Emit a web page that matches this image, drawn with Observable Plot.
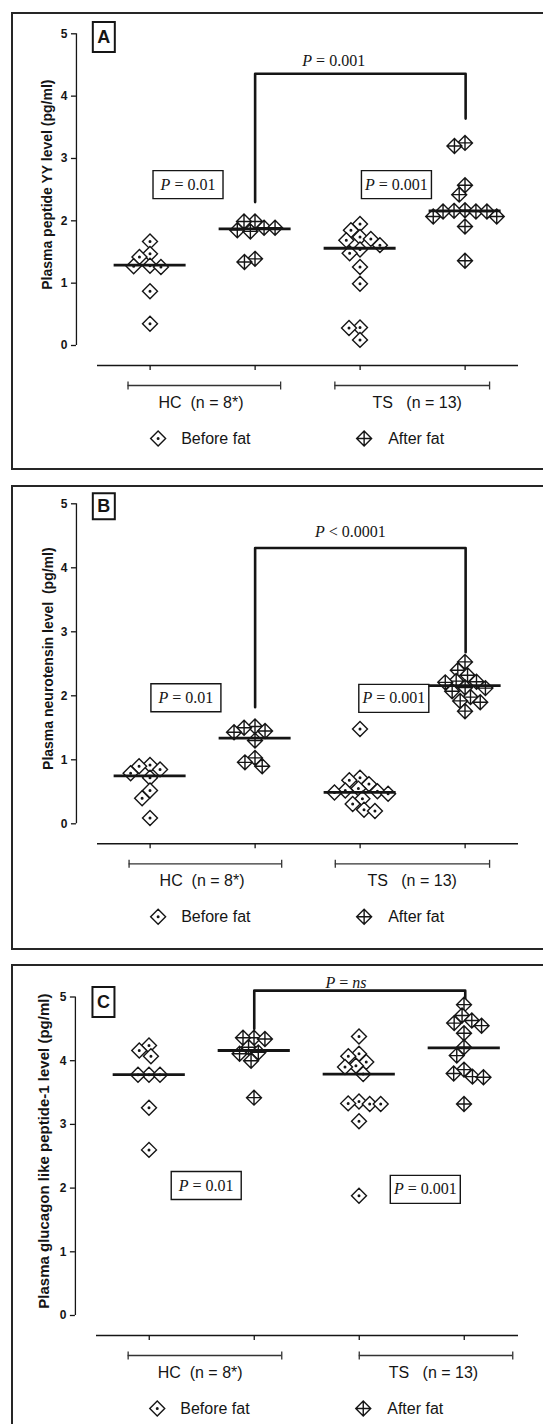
<!DOCTYPE html>
<html>
<head>
<meta charset="utf-8">
<script src="https://cdn.jsdelivr.net/npm/d3@7"></script>
<script src="https://cdn.jsdelivr.net/npm/@observablehq/plot@0.6"></script>
<style>
html, body { margin: 0; padding: 0; background: #fff; }
#root { position: relative; width: 543px; height: 1424px; overflow: hidden; background: #fff; }
.frame { position: absolute; left: 11px; width: 600px; border: 2px solid #262626; box-sizing: border-box; }
.panel { position: absolute; left: 0; }
.panel svg { overflow: visible; }
</style>
</head>
<body>
<div id="root"></div>
<script>
// ---------- shared categories / labels ----------
const categories = ["HC before fat", "HC after fat", "TS before fat", "TS after fat"];
const yTicks = [0, 1, 2, 3, 4, 5];
const legendLabels = ["Before fat", "After fat"];
const groupLabels = ["HC\u00a0\u00a0(n = 8*)", "TS\u00a0\u00a0\u00a0(n = 13)"];

// ---------- Panel A: plasma peptide YY (pg/ml) ----------
const pyyHCBefore = [1.67, 1.47, 1.42, 1.28, 1.26, 1.27, 0.87, 0.35];
const pyyHCAfter  = [1.99, 1.99, 1.89, 1.89, 1.85, 1.83, 1.39, 1.34];
const pyyTSBefore = [1.95, 1.85, 1.74, 1.71, 1.69, 1.61, 1.54, 1.48, 1.26, 0.99, 0.29, 0.28, 0.09];
const pyyTSAfter  = [3.25, 3.20, 2.57, 2.42, 2.17, 2.16, 2.15, 2.15, 2.15, 2.07, 2.07, 1.91, 1.36];
const pyyMedians  = [1.29, 1.87, 1.56, 2.16];
const pyyBracket  = [2.30, 4.36, 3.64];            // left leg end, top, right leg end
const pyyPLabels  = ["P = 0.01", "P = 0.001", "P = 0.001"]; // HC, TS, after vs after

// ---------- Panel B: plasma neurotensin (pg/ml) ----------
const ntHCBefore = [0.92, 0.90, 0.85, 0.79, 0.72, 0.52, 0.40, 0.09];
const ntHCAfter  = [1.52, 1.50, 1.45, 1.43, 1.30, 1.03, 0.96, 0.90];
const ntTSBefore = [1.48, 0.72, 0.68, 0.62, 0.55, 0.52, 0.51, 0.49, 0.47, 0.39, 0.31, 0.22, 0.20];
const ntTSAfter  = [2.53, 2.40, 2.32, 2.23, 2.22, 2.21, 2.13, 2.12, 2.07, 1.98, 1.92, 1.90, 1.76];
const ntMedians  = [0.75, 1.34, 0.49, 2.16];
const ntBracket  = [1.82, 4.31, 2.68];
const ntPLabels  = ["P = 0.01", "P = 0.001", "P < 0.0001"];

// ---------- Panel C: plasma glucagon like peptide-1 (pg/ml) ----------
const glpHCBefore = [4.24, 4.16, 4.07, 3.78, 3.78, 3.78, 3.26, 2.60];
const glpHCAfter  = [4.36, 4.36, 4.34, 4.21, 4.13, 4.11, 4.00, 3.42];
const glpTSBefore = [4.38, 4.11, 4.07, 3.98, 3.92, 3.90, 3.79, 3.36, 3.33, 3.32, 3.32, 3.05, 1.88];
const glpTSAfter  = [4.88, 4.71, 4.63, 4.59, 4.55, 4.43, 4.21, 4.08, 3.86, 3.80, 3.75, 3.74, 3.32];
const glpMedians  = [3.78, 4.16, 3.79, 4.20];
const glpBracket  = [4.50, 5.10, 4.97];
const glpPLabels  = ["P = 0.01", "P = 0.001", "P = ns"];

// ---------- layout (positions / styles) ----------
const ink = "#151515";
const sans = "'Liberation Sans', Arial, sans-serif";
const serif = "'Liberation Serif', 'Times New Roman', serif";

const panels = [
  { letter: "A", title: "Plasma peptide YY level (pg/ml)", titleSize: 14, titleDx: -29,
    top: 13, height: 457, frameTop: 12, frameH: 458, yRange: [332, 20.3], fxRange: [96.5, 517.5],
    series: [pyyHCBefore, pyyHCAfter, pyyTSBefore, pyyTSAfter], medians: pyyMedians,
    bracket: pyyBracket, pLabels: pyyPLabels,
    letterPos: [-0.44, 4.95], letterBox: [22, 30],
    boxPos: [[0.36, 2.58], [0.345, 2.58]], topLabelPos: [0.747, 4.57],
    groupBr: [[-0.21, 1.24], [-0.24, 1.23]], groupLabelX: [0.08, 0.118] },
  { letter: "B", title: "Plasma neurotensin level\u00a0 (pg/ml)", titleSize: 14, titleDx: -28,
    top: 486, height: 464, frameTop: 485, frameH: 465, yRange: [337.3, 17.3], fxRange: [96.5, 517.5],
    series: [ntHCBefore, ntHCAfter, ntTSBefore, ntTSAfter], medians: ntMedians,
    bracket: ntBracket, pLabels: ntPLabels,
    letterPos: [-0.44, 4.96], letterBox: [22, 26],
    boxPos: [[0.34, 1.97], [0.32, 1.96]], topLabelPos: [0.905, 4.56],
    groupBr: [[-0.2, 1.25], [-0.236, 1.23]], groupLabelX: [0.09, 0.07] },
  { letter: "C", title: "Plasma glucagon like peptide-1 level (pg/ml)", titleSize: 15, titleDx: -31,
    top: 965, height: 459, frameTop: 964, frameH: 520, yRange: [350, 31.5], fxRange: [94.5, 516.5],
    series: [glpHCBefore, glpHCAfter, glpTSBefore, glpTSAfter], medians: glpMedians,
    bracket: glpBracket, pLabels: glpPLabels,
    letterPos: [-0.434, 4.92], letterBox: [22, 30],
    boxPos: [[0.54, 2.04], [0.626, 1.98]], topLabelPos: [0.87, 5.22],
    groupBr: [[-0.2, 1.256], [0, 1.455]], groupLabelX: [0.08, 0.28] }
];

// ---------- custom symbols ----------
function diamondPath(ctx, size) {
  const h = Math.sqrt(size / Math.PI) * 1.1;
  ctx.moveTo(0, -h); ctx.lineTo(h, 0); ctx.lineTo(0, h); ctx.lineTo(-h, 0); ctx.closePath();
  return h;
}
const diamondDot = { draw(ctx, size) { diamondPath(ctx, size); ctx.moveTo(0.8, 0); ctx.arc(0, 0, 0.8, 0, 2 * Math.PI); } };
const diamondPlus = { draw(ctx, size) { const h = diamondPath(ctx, size); ctx.moveTo(-h, 0); ctx.lineTo(h, 0); ctx.moveTo(0, -h); ctx.lineTo(0, h); } };
const rectSym = (w, h) => ({ draw(ctx) { ctx.rect(-w / 2, -h / 2, w, h); } });
const tickDown = { draw(ctx) { ctx.moveTo(0, 0); ctx.lineTo(0, 4.5); } };
const capSym = { draw(ctx) { ctx.moveTo(0, -4); ctx.lineTo(0, 4); } };

const mctx = document.createElement("canvas").getContext("2d");
function measure(t, italic, size) {
  mctx.font = `${italic ? "italic " : ""}${size}px ${serif}`;
  return mctx.measureText(t).width;
}
function richText(label, fxCat, x, y, size) {
  const segs = label.split(/(P|ns)/).filter(s => s.length)
    .map(s => ({ t: s.replace(/ /g, "\u00a0"), italic: s === "P" || s === "ns" }));
  const widths = segs.map(s => measure(s.t, s.italic, size));
  let off = -d3.sum(widths) / 2;
  return segs.map((s, i) => {
    const m = Plot.text([s.t], {
      fx: () => fxCat, x: () => x, y: () => y, text: d => d, dx: off,
      textAnchor: "start", fontStyle: s.italic ? "italic" : "normal",
      fontFamily: serif, fontSize: size, fill: ink
    });
    off += widths[i];
    return m;
  });
}

function makePanel(cfg) {
  const [c1, c2, c3, c4] = categories;
  const at = c => () => c;
  const bw = (cfg.fxRange[1] - cfg.fxRange[0]) / 4;
  const axisX = -0.7;
  const before = [], after = [];
  cfg.series.forEach((vals, i) => vals.forEach(v => (i % 2 === 0 ? before : after).push({ cat: categories[i], value: v })));
  const medians = categories.map((c, i) => ({ cat: c, value: cfg.medians[i] }));
  const [legL, legTop, legR] = cfg.bracket;
  const span = categories.indexOf(c4) - categories.indexOf(c2);
  const bracketPts = [{ x: 0, y: legL }, { x: 0, y: legTop }, { x: span, y: legTop }, { x: span, y: legR }];
  const groupBr = [
    { cat: c1, x1: cfg.groupBr[0][0], x2: cfg.groupBr[0][1] },
    { cat: c3, x1: cfg.groupBr[1][0], x2: cfg.groupBr[1][1] }
  ];
  const groupCaps = groupBr.flatMap(d => [{ cat: d.cat, x: d.x1 }, { cat: d.cat, x: d.x2 }]);
  const groupText = [
    { cat: c1, x: cfg.groupLabelX[0], text: groupLabels[0] },
    { cat: c3, x: cfg.groupLabelX[1], text: groupLabels[1] }
  ];
  const legend = [
    { cat: c1, label: legendLabels[0], sdx: 8, tdx: 31 },
    { cat: c3, label: legendLabels[1], sdx: 4, tdx: 28 }
  ];
  const dotStyle = { r: 6.8, fill: "white", stroke: ink, strokeWidth: 1.4 };
  const dodge = { anchor: "middle", padding: -2.6 };
  const textStyle = { fontSize: 16, fontFamily: sans, fill: ink };

  const marks = [
    // y axis
    Plot.ruleX([0], { fx: at(c1), x: axisX, y1: 0, y2: 5, stroke: ink, strokeWidth: 1.3 }),
    Plot.ruleY(yTicks, { fx: at(c1), y: d => d, x1: axisX - 5 / bw, x2: axisX, stroke: ink, strokeWidth: 1.3 }),
    Plot.text(yTicks, { fx: at(c1), y: d => d, x: axisX, dx: -9, text: d => String(d), textAnchor: "end",
      fontWeight: "bold", fontSize: 12, fontFamily: sans, fill: ink }),
    Plot.text([cfg.title], { fx: at(c1), x: axisX, y: 2.58, dx: cfg.titleDx, rotate: -90, text: d => d,
      fontWeight: "bold", fontSize: cfg.titleSize, fontFamily: sans, fill: ink }),
    // x axis line + category ticks
    Plot.ruleY([0], { fx: at(c1), y: d => d, x1: -0.5, x2: 3.5, dy: 20, stroke: ink, strokeWidth: 1.6 }),
    Plot.dot(categories, { fx: d => d, x: 0, y: 0, dy: 20, symbol: tickDown, stroke: ink, strokeWidth: 1.3, fill: "none" }),
    // group brackets and labels
    Plot.ruleY(groupBr, { fx: "cat", y: 0, x1: "x1", x2: "x2", dy: 40, stroke: "#333", strokeWidth: 1.3 }),
    Plot.dot(groupCaps, { fx: "cat", x: "x", y: 0, dy: 40, symbol: capSym, stroke: "#333", strokeWidth: 1.3, fill: "none" }),
    Plot.text(groupText, { fx: "cat", x: "x", y: 0, dy: 57, text: "text", textAnchor: "start", ...textStyle }),
    // legend
    Plot.dot(legend.slice(0, 1), { fx: "cat", x: 0, y: 0, dy: 93, dx: legend[0].sdx, symbol: diamondDot, ...dotStyle }),
    Plot.dot(legend.slice(1), { fx: "cat", x: 0, y: 0, dy: 93, dx: legend[1].sdx, symbol: diamondPlus, ...dotStyle }),
    Plot.text(legend.slice(0, 1), { fx: "cat", x: 0, y: 0, dy: 93, dx: legend[0].tdx, text: "label", textAnchor: "start", ...textStyle }),
    Plot.text(legend.slice(1), { fx: "cat", x: 0, y: 0, dy: 93, dx: legend[1].tdx, text: "label", textAnchor: "start", ...textStyle }),
    // panel letter
    Plot.dot([cfg.letter], { fx: at(c1), x: cfg.letterPos[0], y: cfg.letterPos[1], symbol: rectSym(...cfg.letterBox),
      fill: "white", stroke: ink, strokeWidth: 2, r: 5 }),
    Plot.text([cfg.letter], { fx: at(c1), x: cfg.letterPos[0], y: cfg.letterPos[1], text: d => d,
      fontWeight: "bold", fontSize: 18, fontFamily: sans, fill: ink }),
    // comparison bracket
    Plot.line(bracketPts, { fx: at(c2), x: "x", y: "y", stroke: ink, strokeWidth: 2.6 }),
    ...richText(cfg.pLabels[2], c2, cfg.topLabelPos[0], cfg.topLabelPos[1], 16),
    // boxed P labels
    Plot.dot([0], { fx: at(c1), x: cfg.boxPos[0][0], y: cfg.boxPos[0][1], symbol: rectSym(70, 28), fill: "white", stroke: ink, strokeWidth: 1.4, r: 5 }),
    Plot.dot([0], { fx: at(c3), x: cfg.boxPos[1][0], y: cfg.boxPos[1][1], symbol: rectSym(70, 28), fill: "white", stroke: ink, strokeWidth: 1.4, r: 5 }),
    ...richText(cfg.pLabels[0], c1, cfg.boxPos[0][0], cfg.boxPos[0][1], 16),
    ...richText(cfg.pLabels[1], c3, cfg.boxPos[1][0], cfg.boxPos[1][1], 16),
    // data points
    Plot.dot(before, Plot.dodgeX(dodge, { fx: "cat", y: "value", symbol: diamondDot, ...dotStyle })),
    Plot.dot(after, Plot.dodgeX(dodge, { fx: "cat", y: "value", symbol: diamondPlus, ...dotStyle })),
    // medians
    Plot.ruleY(medians, { fx: "cat", y: "value", x1: -0.342, x2: 0.342, stroke: ink, strokeWidth: 2.8 })
  ];

  return Plot.plot({
    width: 543, height: cfg.height,
    marginTop: 0, marginRight: 0, marginBottom: 0, marginLeft: 0,
    style: { background: "transparent", overflow: "visible", fontFamily: sans },
    fx: { domain: categories, range: cfg.fxRange, padding: 0, axis: null, label: null },
    x: { domain: [-0.5, 0.5], range: [0, bw], axis: null },
    y: { domain: [0, 5], range: cfg.yRange, axis: null },
    marks
  });
}

const root = document.getElementById("root");
for (const cfg of panels) {
  const frame = document.createElement("div");
  frame.className = "frame";
  frame.style.top = cfg.frameTop + "px";
  frame.style.height = cfg.frameH + "px";
  root.appendChild(frame);
  const holder = document.createElement("div");
  holder.className = "panel";
  holder.style.top = cfg.top + "px";
  holder.appendChild(makePanel(cfg));
  root.appendChild(holder);
}
</script>
</body>
</html>
